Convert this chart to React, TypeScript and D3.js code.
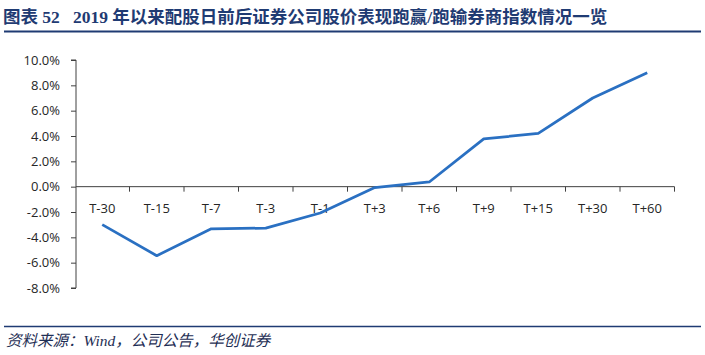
import { useEffect, useRef } from 'react';
import * as d3 from 'd3';

// 2019年以来配股日前后证券公司股价 vs 券商指数 (超额收益, %)
const categories = ['T-30', 'T-15', 'T-7', 'T-3', 'T-1', 'T+3', 'T+6', 'T+9', 'T+15', 'T+30', 'T+60'];
const excessReturn = [-3.0, -5.45, -3.33, -3.27, -2.08, -0.07, 0.37, 3.77, 4.2, 7.0, 9.0];
const yTicks = [10, 8, 6, 4, 2, 0, -2, -4, -6, -8];

const title = '图表 52\u2002 2019 年以来配股日前后证券公司股价表现跑赢/跑输券商指数情况一览';
const source = '资料来源：Wind，公司公告，华创证券';

const W = 705;
const H = 355;

export default function App() {
  const svgRef = useRef<SVGSVGElement>(null);

  useEffect(() => {
    if (!svgRef.current) return;
    const svg = d3.select(svgRef.current);
    svg.selectAll('*').remove();

    const navy = '#1F3B73';
    const axisColor = '#404040';
    const font = '"Open Sans", "Liberation Sans", sans-serif';

    // Title + rule
    svg.append('text')
      .attr('x', 3)
      .attr('y', 23)
      .attr('fill', navy)
      .style('font-family', '"Liberation Serif", "Noto Sans CJK SC", serif')
      .style('font-size', '17.5px')
      .style('font-weight', 'bold')
      .text(title);
    svg.append('line')
      .attr('x1', 4).attr('x2', 701)
      .attr('y1', 31.5).attr('y2', 31.5)
      .attr('stroke', navy)
      .attr('stroke-width', 2);

    // Scales
    const x = d3.scaleBand<string>()
      .domain(categories)
      .range([75, 674.5]);
    const y = d3.scaleLinear()
      .domain([-8, 10])
      .range([288, 60]);

    // Y axis
    const yAxis = svg.append('g')
      .attr('transform', 'translate(76,0)')
      .call(d3.axisLeft(y)
        .tickValues(yTicks)
        .tickSize(5)
        .tickPadding(11)
        .tickFormat(d => `${(+d).toFixed(1)}%`));
    yAxis.select('.domain').attr('stroke', axisColor).attr('d', `M-5,${y(10)}H0V${y(-8)}H-5`);
    yAxis.selectAll('.tick line').attr('stroke', axisColor);
    yAxis.selectAll('.tick text')
      .attr('fill', '#262626')
      .style('font-family', font)
      .style('font-size', '13px');

    // X axis at zero, ticks between categories
    const y0 = y(0);
    const xr1 = x.range()[1];
    svg.append('line')
      .attr('x1', 76).attr('x2', xr1)
      .attr('y1', y0).attr('y2', y0)
      .attr('stroke', axisColor)
      .attr('stroke-width', 1);
    const bounds = categories.map(c => (x(c) ?? 0) + x.bandwidth());
    svg.append('g')
      .selectAll('line')
      .data(bounds)
      .enter()
      .append('line')
      .attr('x1', d => d).attr('x2', d => d)
      .attr('y1', y0).attr('y2', y0 + 5)
      .attr('stroke', axisColor);

    svg.append('g')
      .selectAll('text')
      .data(categories)
      .enter()
      .append('text')
      .attr('x', d => (x(d) ?? 0) + x.bandwidth() / 2)
      .attr('y', y0 + 26)
      .attr('text-anchor', 'middle')
      .attr('fill', '#262626')
      .style('font-family', font)
      .style('font-size', '13px')
      .text(d => d);

    // Line
    const line = d3.line<number>()
      .x((_d, i) => (x(categories[i]) ?? 0) + x.bandwidth() / 2)
      .y(d => y(d));
    svg.append('path')
      .datum(excessReturn)
      .attr('d', line)
      .attr('fill', 'none')
      .attr('stroke', '#2A70C2')
      .attr('stroke-width', 2.75)
      .attr('stroke-linejoin', 'round');

    // Source
    svg.append('line')
      .attr('x1', 4).attr('x2', 701)
      .attr('y1', 326.5).attr('y2', 326.5)
      .attr('stroke', navy)
      .attr('stroke-width', 1.5);
    svg.append('text')
      .attr('x', 6)
      .attr('y', 346)
      .attr('fill', '#1F2F55')
      .style('font-family', '"Liberation Serif", "Noto Sans CJK SC", serif')
      .style('font-size', '15.5px')
      .style('font-style', 'italic')
      .text(source);
  }, []);

  return (
    <svg
      ref={svgRef}
      width={W}
      height={H}
      style={{ position: 'absolute', left: 0, top: 0, background: '#fff' }}
    />
  );
}
